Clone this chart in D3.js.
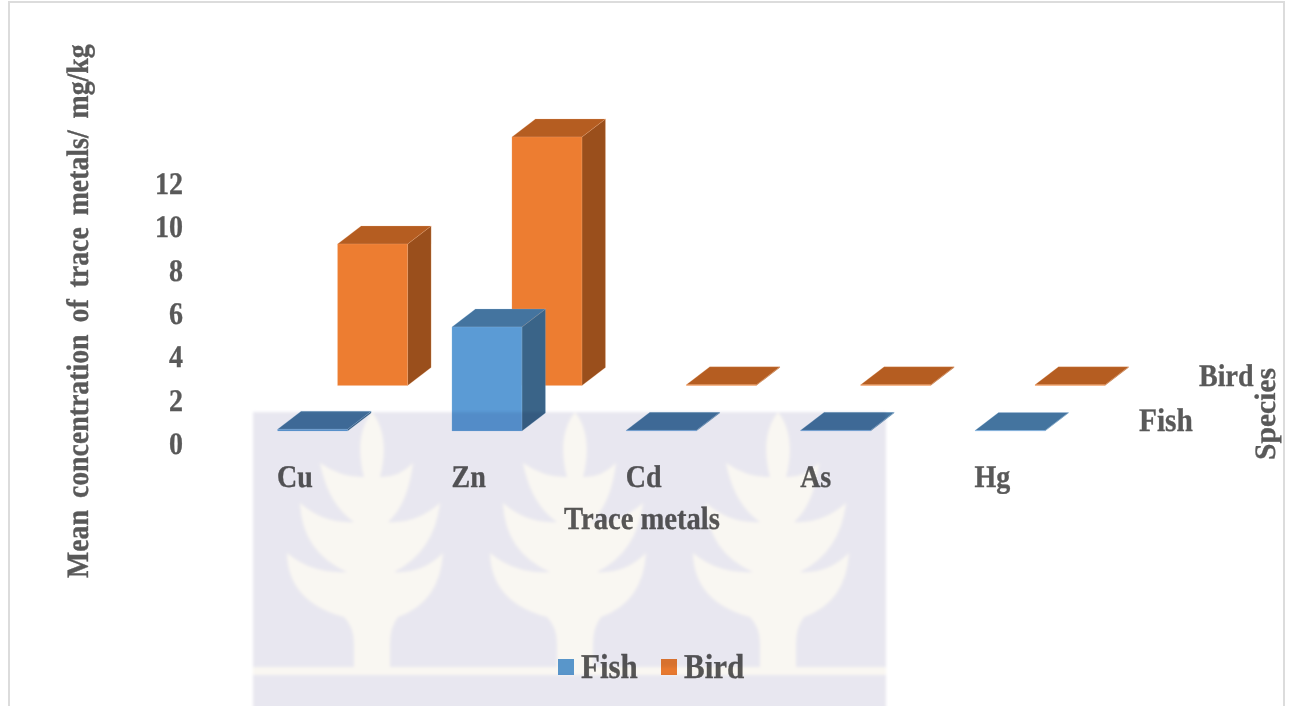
<!DOCTYPE html>
<html>
<head>
<meta charset="utf-8">
<script src="https://cdn.jsdelivr.net/npm/d3@7/dist/d3.min.js"></script>
<style>
  html, body { margin: 0; padding: 0; background: #fff; overflow: hidden; }
  svg { display: block; }
  text { font-family: "Liberation Serif", serif; font-weight: 700; fill: #595959; stroke: #595959; stroke-width: 0.3px; text-rendering: geometricPrecision; }
</style>
</head>
<body>
<svg id="chart" width="1291" height="706"></svg>
<script>
const metals = ["Cu", "Zn", "Cd", "As", "Hg"];
const species = ["Fish", "Bird"];
const fishValues = [0.08, 4.8, 0.03, 0.03, 0.02];
const birdValues = [6.53, 11.47, 0.03, 0.03, 0.03];
const valueTicks = [0, 2, 4, 6, 8, 10, 12];

const palette = {
  Fish: { front: "#5b9bd5", top: "#44749f", side: "#3a6488", edge: "#9cc3e6" },
  Bird: { front: "#ed7d31", top: "#b55d21", side: "#9a4f1c", edge: "#f4b183" }
};

const svg = d3.select("#chart");
const barWidth = 70, depthX = 23.5, depthY = -18, floorDrop = 13;
const tallText = "scale(1,1.12)";

// Three-axis layout: metals run along x, values up y, species recede diagonally.
const x = d3.scalePoint().domain(metals).range([277.6, 975]);
const y = d3.scaleLinear().domain([0, 12]).range([444, 184]);
const speciesX = d3.scalePoint().domain(species).range([0, 60]);
const speciesY = d3.scalePoint().domain(species).range([0, -45.5]);

// Outer frame
svg.append("rect")
  .attr("x", 9).attr("y", 2).attr("width", 1275).attr("height", 720)
  .attr("fill", "none").attr("stroke", "#dcdcdc").attr("stroke-width", 2);

// One box per value: side and top faces behind the front face.
function drawSeries(name, values) {
  const c = palette[name];
  const g = svg.append("g").attr("class", "series-" + name);
  const rows = metals.map((m, i) => ({ metal: m, value: values[i] })).reverse();
  rows.forEach(d => {
    const x0 = x(d.metal) + speciesX(name);
    const x1 = x0 + barWidth;
    const base = y(0) - floorDrop + speciesY(name);
    const top = y(d.value) - floorDrop + speciesY(name);
    const box = g.append("g");
    const face = (pts, fill) => box.append("path")
      .attr("d", d3.line()(pts) + "Z")
      .attr("fill", fill).attr("stroke", c.edge).attr("stroke-opacity", 0.3)
      .attr("stroke-width", 0.7).attr("stroke-linejoin", "round");
    face([[x1, base], [x1 + depthX, base + depthY], [x1 + depthX, top + depthY], [x1, top]], c.side);
    face([[x0, top], [x1, top], [x1 + depthX, top + depthY], [x0 + depthX, top + depthY]], c.top);
    face([[x0, base], [x1, base], [x1, top], [x0, top]], c.front);
  });
}
drawSeries("Bird", birdValues);
drawSeries("Fish", fishValues);

// Value axis
const yAxis = svg.append("g").attr("transform", "translate(183,-1)")
  .call(d3.axisLeft(y).tickValues(valueTicks).tickSize(0).tickPadding(0));
yAxis.select(".domain").remove();
yAxis.selectAll("text").style("font-size", "28px").attr("dy", "0.33em").attr("x", 0)
  .attr("transform", tallText);

// Metal axis, labels left-aligned on each box
const xAxis = svg.append("g").attr("transform", "translate(-1,487)")
  .call(d3.axisBottom(x).tickSize(0).tickPadding(0));
xAxis.select(".domain").remove();
xAxis.selectAll("text").style("font-size", "28px").attr("text-anchor", "start").attr("dy", 0).attr("y", 0)
  .attr("transform", tallText);

// Species axis labels
species.forEach(s => {
  svg.append("text").text(s)
    .attr("transform", `translate(${1139 + speciesX(s)},${431 + speciesY(s)}) ${tallText}`)
    .style("font-size", s === "Fish" ? "29.4px" : "28px");
});

// Axis titles
svg.append("text").text("Trace metals")
  .attr("transform", `translate(564,529) ${tallText}`).style("font-size", "28.6px");
svg.append("text").text("Mean concentration of trace metals/ mg/kg")
  .attr("transform", `translate(88,578) rotate(-90) ${tallText}`)
  .style("word-spacing", "5px")
  .style("font-size", "27.8px");
svg.append("text").text("Species")
  .attr("transform", "translate(1275,460) rotate(-90)")
  .style("font-size", "29.6px");

// Legend
const legend = svg.append("g").attr("class", "legend");
const legendX = { Fish: 558, Bird: 661 };
species.forEach(s => {
  legend.append("rect").attr("x", legendX[s]).attr("y", 659)
    .attr("width", 16).attr("height", 16).attr("fill", palette[s].front);
  legend.append("text").text(s)
    .attr("transform", `translate(${legendX[s] + 23},678) ${tallText}`)
    .style("font-size", "31px");
});

// Crest printed over the page
const defs = svg.append("defs");
defs.append("filter").attr("id", "soft")
  .attr("x", "-5%").attr("y", "-5%").attr("width", "110%").attr("height", "110%")
  .append("feGaussianBlur").attr("stdDeviation", 1.8);

const crestPath = [
  "M0,0", "C-14,18 -14,42 -8,65", "Q-30,66 -52,51", "Q-44,92 -18,110",
  "Q-48,112 -72,91", "Q-70,140 -25,160", "Q-60,162 -85,141", "Q-84,190 -28,205",
  "Q-18,215 -18,232", "L-18,255", "L18,255", "L18,232", "Q18,215 26,205",
  "Q68,190 71,141", "Q50,162 22,160", "Q62,140 68,91", "Q44,112 16,110",
  "Q36,92 41,51", "Q26,66 8,65", "C14,42 14,18 0,0", "Z"
].join(" ");

const crest = svg.append("g").style("mix-blend-mode", "multiply").attr("filter", "url(#soft)");
crest.append("rect").attr("x", 253).attr("y", 412).attr("width", 633).attr("height", 310).attr("fill", "#e8e7f0");
[372, 575, 778].forEach(cx => {
  crest.append("path").attr("d", crestPath).attr("transform", `translate(${cx},412)`).attr("fill", "#f9f7f2");
});
crest.append("rect").attr("x", 253).attr("y", 667).attr("width", 633).attr("height", 8).attr("fill", "#f9f7f2");
</script>
</body>
</html>
